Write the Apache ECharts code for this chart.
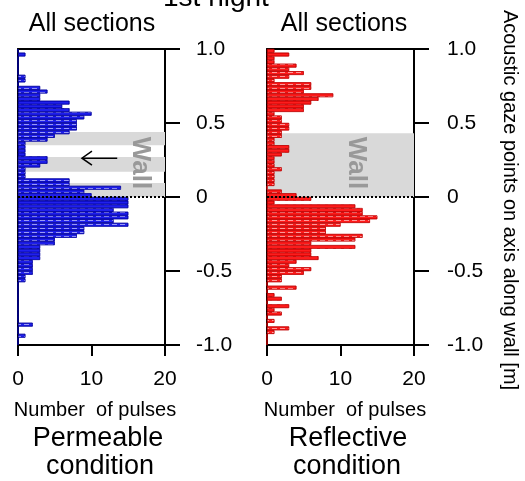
<!DOCTYPE html>
<html>
<head>
<meta charset="utf-8">
<script src="https://cdn.jsdelivr.net/npm/echarts@6/dist/echarts.min.js"></script>
<style>
html,body{margin:0;padding:0;background:#fff;}
#chart{width:525px;height:481px;}
</style>
</head>
<body>
<div id="chart"></div>
<script>
// Histogram bins: 80 bins of 0.025 m, listed from top (+1.0) to bottom (-1.0)
const binWidth = 0.025;
const binCount = 80;
const categories = [];
for (let i = 0; i < binCount; i++) categories.push((1 - binWidth * (i + 0.5)).toFixed(4));

// Permeable condition (blue), counts top -> bottom
const permeableCounts = [
  0,1,0,0,0,0,0,1,1,0,
  3,4,3,3,7,6,7,10,9,8,
  8,8,7,5,4,1,1,1,1,4,
  4,3,1,1,1,7,7,14,9,10,
  15,15,15,13,15,15,13,15,9,9,
  8,5,5,3,3,3,3,2,2,2,
  2,1,1,0,0,0,0,0,0,0,
  0,0,0,0,2,0,0,1,0,0
];
// Reflective condition (red), counts top -> bottom
const reflectiveCounts = [
  1,3,1,1,4,3,5,3,1,6,
  6,5,9,7,6,5,5,1,2,2,
  3,3,2,2,1,1,3,3,2,1,
  1,1,2,1,1,1,1,0,2,4,
  6,1,12,13,13,15,14,10,8,8,
  13,12,6,12,6,6,7,4,3,6,
  5,2,2,0,4,0,1,2,0,3,
  1,2,0,1,0,3,1,0,0,0
];
// Wall extents along axis [m]
const wallLeft = [[0.35, 0.44], [0.17, 0.27], [0, 0.095]];
const wallRight = [[0, 0.43]];

const FONT = '"Liberation Sans", Arial, sans-serif';
const chart = echarts.init(document.getElementById('chart'), null, {renderer: 'canvas'});

function xAxes(grid) {
  return [
    {type:'value', gridIndex:grid, position:'bottom', min:0, max:20, interval:10,
     axisLine:{show:true, onZero:false, lineStyle:{color:'#000', width:2}},
     axisTick:{show:true, inside:false, length:11, lineStyle:{color:'#000', width:2}},
     axisLabel:{show:true, color:'#000', fontSize:21, fontFamily:FONT, margin:24},
     splitLine:{show:false}},
    {type:'value', gridIndex:grid, position:'top', min:0, max:20, interval:10,
     axisLine:{show:true, onZero:false, lineStyle:{color:'#000', width:2}},
     axisTick:{show:false}, axisLabel:{show:false}, splitLine:{show:false}}
  ];
}
function yAxes(grid, margin) {
  return [
    {type:'category', gridIndex:grid, data:categories, inverse:true, position:'left',
     boundaryGap:true,
     axisLine:{show:true, onZero:false, lineStyle:{color:'#000', width:2}},
     axisTick:{show:false}, axisLabel:{show:false}, splitLine:{show:false}},
    {type:'value', gridIndex:grid, position:'right', min:-1, max:1, interval:0.5,
     axisLine:{show:true, onZero:false, lineStyle:{color:'#000', width:2}},
     axisTick:{show:true, inside:false, length:15, lineStyle:{color:'#000', width:2}},
     axisLabel:{show:true, color:'#000', fontSize:21, fontFamily:FONT, margin:margin, align:'left',
       formatter: v => v === 0 ? '0' : v.toFixed(1)},
     splitLine:{show:false}}
  ];
}
function helper(xi, yi, walls) {
  return {
    type:'line', xAxisIndex:xi, yAxisIndex:yi, data:[], z:1, silent:true,
    markArea:{silent:true, itemStyle:{color:'#d9d9d9'},
      data: walls.map(w => [{xAxis:0, yAxis:w[0]}, {xAxis:20, yAxis:w[1]}])},
    markLine:{silent:true, symbol:['none','none'], label:{show:false},
      lineStyle:{color:'#000', type:[2,2], width:2},
      data:[[{xAxis:0, yAxis:0}, {xAxis:20, yAxis:0}]]}
  };
}
function bars(xi, yi, data, color, border) {
  return {
    type:'bar', xAxisIndex:xi, yAxisIndex:yi, data:data, z:3,
    barCategoryGap:'0%',
    itemStyle:{color:color, borderColor:border, borderWidth:0.6,
      decal:{symbol:'rect', symbolSize:1, color:'rgba(255,255,255,0.55)',
             dashArrayX:[5,3], dashArrayY:[1,3], rotation:0}}
  };
}

chart.setOption({
  animation:false,
  backgroundColor:'#fff',
  grid:[
    {left:18, top:49, width:147, height:296},
    {left:267, top:49, width:147, height:296}
  ],
  xAxis:[...xAxes(0), ...xAxes(1)],
  yAxis:[...yAxes(0, 31), ...yAxes(1, 33)],
  series:[
    helper(0, 1, wallLeft),
    helper(2, 3, wallRight),
    bars(0, 0, permeableCounts, '#2020ee', '#0000a0'),
    bars(2, 2, reflectiveCounts, '#ff1c1c', '#c00000')
  ]
});

function txt(text, x, y, size) {
  return {type:'text', x:x, y:y, z:10, style:{text:text, fill:'#000',
    font: size + 'px ' + FONT, textAlign:'center', textVerticalAlign:'middle'}};
}
const pL = chart.convertToPixel({xAxisIndex:0, yAxisIndex:1}, [16.6, 0.23]);
const pR = chart.convertToPixel({xAxisIndex:2, yAxisIndex:3}, [12.2, 0.23]);
const a1 = chart.convertToPixel({xAxisIndex:0, yAxisIndex:1}, [13.5, 0.262]);
const a0 = chart.convertToPixel({xAxisIndex:0, yAxisIndex:1}, [8.7, 0.262]);

chart.setOption({
  graphic:[
    {type:'text', x:163, y:12, z:10, style:{text:'1st night', fill:'#000', font:'28px ' + FONT, textAlign:'left', textVerticalAlign:'bottom'}},
    txt('All sections', 92, 24, 25),
    txt('All sections', 344, 24, 25),
    txt('Number  of pulses', 95, 410, 20),
    txt('Number  of pulses', 345, 410, 20),
    txt('Permeable', 98, 439, 27),
    txt('condition', 100, 467, 27),
    txt('Reflective', 348, 439, 27),
    txt('condition', 347, 467, 27),
    {type:'text', x:510, y:200, rotation:-Math.PI/2, z:10,
     style:{text:'Acoustic gaze points on axis along wall [m]', fill:'#000', font:'20px ' + FONT,
       textAlign:'center', textVerticalAlign:'middle'}},
    {type:'text', x:pL[0], y:pL[1], rotation:-Math.PI/2, z:10,
     style:{text:'Wall', fill:'#999', font:'bold 26px ' + FONT, textAlign:'center', textVerticalAlign:'middle'}},
    {type:'text', x:pR[0], y:pR[1], rotation:-Math.PI/2, z:10,
     style:{text:'Wall', fill:'#999', font:'bold 26px ' + FONT, textAlign:'center', textVerticalAlign:'middle'}},
    {type:'polyline', z:10, shape:{points:[[a1[0], a1[1]], [a0[0], a0[1]]]}, style:{stroke:'#000', lineWidth:1.5, fill:null}},
    {type:'polyline', z:10, shape:{points:[[a0[0] + 10, a0[1] - 7], [a0[0], a0[1]], [a0[0] + 10, a0[1] + 7]]}, style:{stroke:'#000', lineWidth:1.5, fill:null}}
  ]
});
</script>
</body>
</html>
